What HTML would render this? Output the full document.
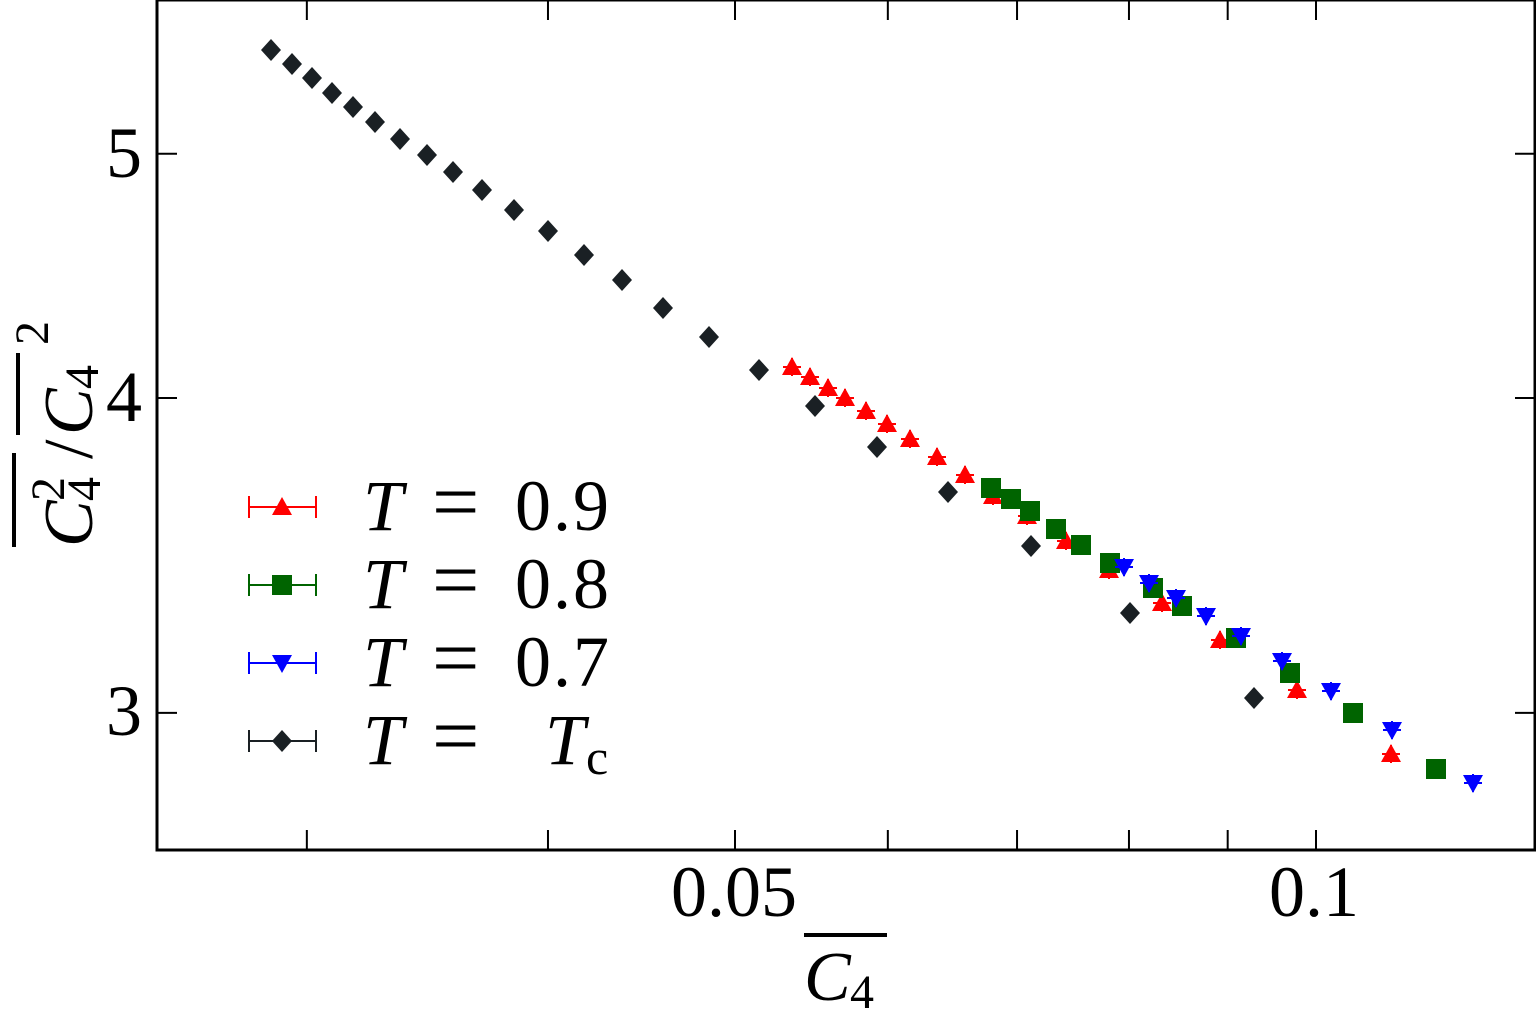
<!DOCTYPE html>
<html><head><meta charset="utf-8"><style>html,body{margin:0;padding:0;background:#fff}svg{display:block}</style></head>
<body>
<svg id="s" width="1536" height="1010" viewBox="0 0 1536 1010" xmlns="http://www.w3.org/2000/svg" font-family="Liberation Serif, serif">
<rect x="157" y="0" width="1378" height="850" fill="none" stroke="#000" stroke-width="3"/>
<g id="ticks" stroke="#000" stroke-width="2"></g>
<g font-size="72" text-anchor="middle">
<text x="734" y="916">0.05</text>
<text x="1314" y="916">0.1</text>
<text x="124" y="177">5</text>
<text x="124" y="421">4</text>
<text x="124" y="735">3</text>
</g>
<g font-size="70" font-style="italic">
<line x1="804" y1="935" x2="887" y2="935" stroke="#000" stroke-width="4"/>
<text x="804" y="1000">C</text><text x="850" y="1008" font-size="48" font-style="normal">4</text>
</g>
<g transform="translate(0,425) rotate(-90)" font-size="70" font-style="italic">
<line x1="-122" y1="14" x2="-28" y2="14" stroke="#000" stroke-width="4"/>
<text x="-122" y="92">C</text><text x="-76" y="64" font-size="48" font-style="normal">2</text><text x="-76" y="100" font-size="48" font-style="normal">4</text>
<text x="-34" y="92" font-style="normal">/</text>
<line x1="-10" y1="18" x2="72" y2="18" stroke="#000" stroke-width="4"/>
<text x="-10" y="92">C</text><text x="36" y="98" font-size="48" font-style="normal">4</text>
<text x="80" y="48" font-size="48" font-style="normal">2</text>
</g>
<g id="data"></g>
<g id="leg" font-size="72"></g>
</svg>
<script>
var NS="http://www.w3.org/2000/svg";
function el(p,t,a,txt){var e=document.createElementNS(NS,t);for(var k in a)e.setAttribute(k,a[k]);if(txt)e.textContent=txt;p.appendChild(e);return e;}
var tk=document.getElementById("ticks");
[0.03,0.04,0.05,0.06,0.07,0.08,0.09,0.1].forEach(function(v){var x=1316+1930*Math.log10(v/0.1);el(tk,"line",{x1:x,y1:850,x2:x,y2:830});el(tk,"line",{x1:x,y1:0,x2:x,y2:20});});
[5,4,3].forEach(function(v){var y=398-2520*Math.log10(v/4);el(tk,"line",{x1:157,y1:y,x2:177,y2:y});el(tk,"line",{x1:1535,y1:y,x2:1515,y2:y});});
var d=document.getElementById("data");
function mk(g,type,x,y,c){
 if(type=="tu")el(g,"polygon",{points:(x-10)+","+(y+8)+" "+(x+10)+","+(y+8)+" "+x+","+(y-10),fill:c});
 else if(type=="td")el(g,"polygon",{points:(x-10)+","+(y-8)+" "+(x+10)+","+(y-8)+" "+x+","+(y+10),fill:c});
 else if(type=="sq")el(g,"rect",{x:x-10,y:y-10,width:20,height:20,fill:c});
 else el(g,"polygon",{points:x+","+(y-11)+" "+(x+10)+","+y+" "+x+","+(y+11)+" "+(x-10)+","+y,fill:c});
}
function err(g,x,y,c){el(g,"line",{x1:x-9,y1:y,x2:x+9,y2:y,stroke:c,"stroke-width":2});el(g,"line",{x1:x,y1:y-9,x2:x,y2:y+9,stroke:c,"stroke-width":2});}
var S=[
["dm","#1a2024",[[271,50],[292,64],[312,78],[332,93],[353,107],[375,122],[400,139],[427,155],[453,172],[482,190],[514,210],[548,231],[584,255],[622,280],[663,308],[709,337],[759,370],[815,406],[877,447],[948,492],[1031,546],[1130,613],[1254,698]]],
["tu","#ff0000",[[792,367],[810,377],[828,388],[845,398],[866,411],[887,424],[910,439],[937,457],[965,475],[993,496],[1027,516],[1066,541],[1109,570],[1162,603],[1220,640],[1297,690],[1391,754]]],
["sq","#006400",[[991,488],[1011,499],[1030,511],[1056,529],[1081,545],[1110,563],[1153,588],[1182,606],[1236,638],[1290,673],[1353,713],[1436,769]]],
["td","#0000ff",[[1124,567],[1149,583],[1176,598],[1206,616],[1241,636],[1282,661],[1331,691],[1392,730],[1473,783]]]];
S.forEach(function(s){s[2].forEach(function(p){if(s[0]!="sq")err(d,p[0],p[1],s[1]);mk(d,s[0],p[0],p[1],s[1]);});});
var L=document.getElementById("leg");
[["tu","#ff0000",507,"0.9"],["sq","#006400",585,"0.8"],["td","#0000ff",663,"0.7"],["dm","#1a2024",741,null]].forEach(function(l){
 el(L,"line",{x1:249,y1:l[2],x2:316,y2:l[2],stroke:l[1],"stroke-width":2});
 el(L,"line",{x1:249,y1:l[2]-11,x2:249,y2:l[2]+11,stroke:l[1],"stroke-width":2});
 el(L,"line",{x1:316,y1:l[2]-11,x2:316,y2:l[2]+11,stroke:l[1],"stroke-width":2});
 mk(L,l[0],282,l[2],l[1]);
 var by=l[2]+23;
 el(L,"text",{x:363,y:by,"font-style":"italic"},"T");
 el(L,"text",{x:432,y:by,"font-size":84,transform:"translate(0,0)"},"=");
 if(l[3]) el(L,"text",{x:515,y:by,"letter-spacing":"2"},l[3]);
 else { el(L,"text",{x:545,y:by,"font-style":"italic"},"T"); el(L,"text",{x:586,y:by+10,"font-size":50},"c"); }
});
</script>
</body></html>
